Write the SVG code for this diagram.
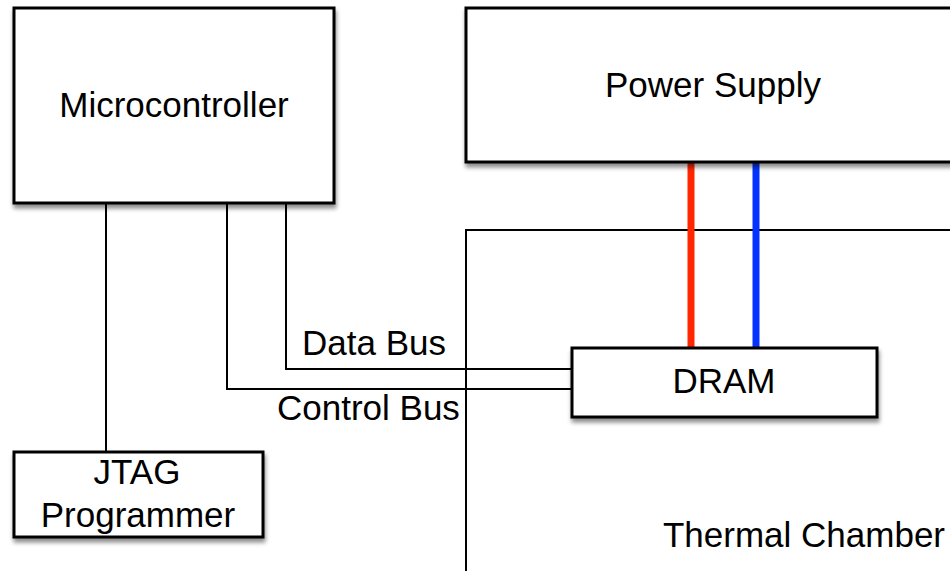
<svg xmlns="http://www.w3.org/2000/svg" width="950" height="571" viewBox="0 0 950 571">
<defs>
<filter id="sh" x="-10%" y="-10%" width="130%" height="140%">
<feDropShadow dx="1" dy="4" stdDeviation="2" flood-color="#000" flood-opacity="0.45"/>
</filter>
</defs>
<style>
.box{fill:#fff;stroke:#000;stroke-width:3}
.ln{fill:none;stroke:#000;stroke-width:2}
.pw{fill:none;stroke-width:7;stroke-linecap:round}
text{font-family:"Liberation Sans",Arial,Helvetica,sans-serif;font-size:35px;fill:#000}
</style>
<rect width="950" height="571" fill="#fff"/>
<g id="thermal-chamber">
<path class="ln" d="M466,571 V230 H952"/>
<text x="804" y="547" text-anchor="middle">Thermal Chamber</text>
</g>
<g id="connectors">
<path class="ln" d="M106,203 V452"/>
<path class="ln" d="M286,203 V369 H572"/>
<path class="ln" d="M227,203 V389 H572"/>
<path class="pw" stroke="#FF2600" d="M691,161 V347"/>
<path class="pw" stroke="#0433FF" d="M756,161 V347"/>
</g>
<g id="microcontroller">
<rect class="box" x="14" y="8" width="320" height="195" filter="url(#sh)"/>
<text x="174" y="117" text-anchor="middle">Microcontroller</text>
</g>
<g id="power-supply">
<rect class="box" x="466" y="8" width="500" height="154" filter="url(#sh)"/>
<text x="713" y="97" text-anchor="middle">Power Supply</text>
</g>
<g id="dram">
<rect class="box" x="572" y="348" width="305" height="69" filter="url(#sh)"/>
<text x="724" y="393" text-anchor="middle">DRAM</text>
</g>
<g id="jtag-programmer">
<rect class="box" x="14" y="452" width="249" height="85" filter="url(#sh)"/>
<text x="137" y="484" text-anchor="middle">JTAG</text>
<text x="138" y="527" text-anchor="middle">Programmer</text>
</g>
<g id="labels">
<text x="302" y="355">Data Bus</text>
<text x="277" y="420">Control Bus</text>
</g>
</svg>
